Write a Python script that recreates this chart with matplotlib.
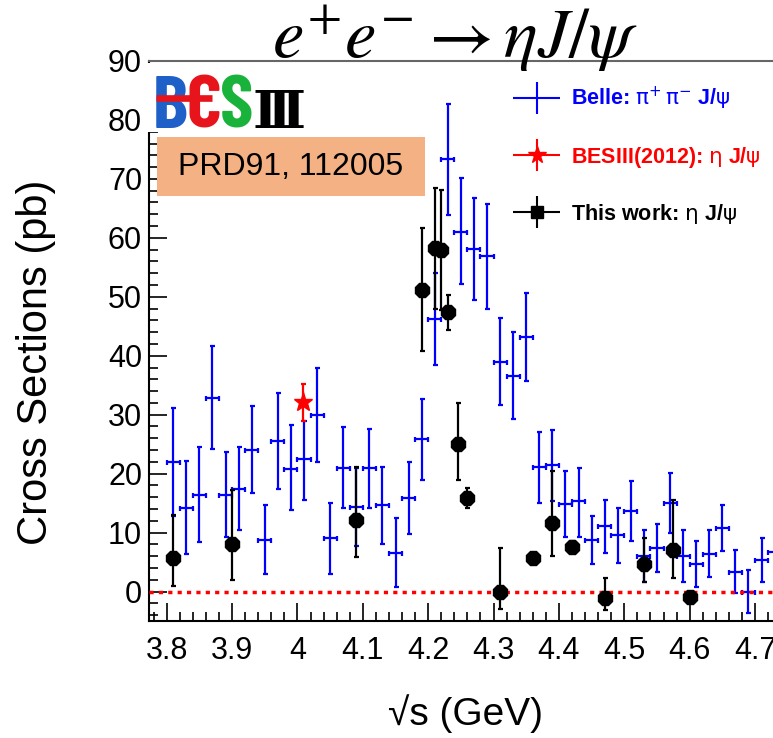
import matplotlib
matplotlib.use("Agg")
import matplotlib.pyplot as plt
import numpy as np
from matplotlib.container import ErrorbarContainer
from matplotlib.legend_handler import HandlerErrorbar
from matplotlib.lines import Line2D
from matplotlib.patches import Rectangle
from matplotlib.ticker import FormatStrFormatter, MultipleLocator

plt.rcParams["font.family"] = ["Liberation Sans", "DejaVu Sans"]

# Belle ISR pi+ pi- J/psi, 20 MeV bins
belle_energy = [3.81, 3.83, 3.85, 3.87, 3.89, 3.91, 3.93, 3.95, 3.97, 3.99,
                4.01, 4.03, 4.05, 4.07, 4.09, 4.11, 4.13, 4.15, 4.17, 4.19,
                4.21, 4.23, 4.25, 4.27, 4.29, 4.31, 4.33, 4.35, 4.37, 4.39,
                4.41, 4.43, 4.45, 4.47, 4.49, 4.51, 4.53, 4.55, 4.57, 4.59,
                4.61, 4.63, 4.65, 4.67, 4.69, 4.71, 4.73]
belle_xsec = [22.0, 14.2, 16.4, 32.8, 16.4, 17.4, 24.0, 8.7, 25.5, 20.8,
              22.5, 29.9, 9.0, 21.0, 14.4, 21.0, 14.6, 6.6, 15.9, 25.8,
              46.2, 73.3, 61.0, 58.1, 56.9, 39.0, 36.6, 43.2, 21.1, 21.4,
              14.9, 15.3, 8.7, 11.1, 9.6, 13.6, 6.0, 7.4, 15.0, 6.1,
              4.7, 6.4, 10.8, 3.3, 0.0, 5.4, 6.7]
belle_err_up = [9.2, 8.0, 8.2, 8.8, 7.3, 7.2, 7.4, 5.9, 8.1, 7.4,
                6.5, 8.0, 6.1, 6.9, 6.6, 6.6, 6.5, 5.9, 6.1, 6.8,
                7.8, 9.4, 9.1, 8.6, 8.8, 7.4, 7.4, 7.4, 6.0, 6.0,
                5.5, 5.7, 4.1, 4.5, 4.6, 5.1, 4.4, 4.0, 5.1, 4.3,
                3.8, 4.1, 3.9, 3.8, 3.7, 3.7, 4.0]
belle_err_dn = [9.2, 7.9, 8.0, 8.7, 7.2, 7.0, 7.3, 5.8, 8.1, 7.0,
                7.0, 7.9, 6.0, 6.8, 6.6, 6.8, 6.5, 5.9, 6.1, 6.8,
                7.8, 9.4, 8.9, 8.7, 9.0, 7.4, 7.4, 7.5, 6.0, 6.0,
                5.6, 6.0, 4.1, 4.5, 4.7, 5.1, 4.4, 4.1, 5.1, 4.4,
                3.9, 3.9, 4.0, 3.6, 3.7, 3.8, 4.0]
belle_half_bin = 0.01

# BESIII 2012 eta J/psi at 4.009 GeV
bes2012_energy = [4.009]
bes2012_xsec = [32.1]
bes2012_err_up = [3.1]
bes2012_err_dn = [3.2]

# this work: eta J/psi
this_energy = [3.810, 3.900, 4.090, 4.190, 4.210, 4.220, 4.230, 4.245, 4.260,
               4.310, 4.360, 4.390, 4.420, 4.470, 4.530, 4.575, 4.600]
this_xsec = [5.7, 8.0, 12.2, 51.1, 58.2, 57.9, 47.5, 25.0, 15.8,
             0.0, 5.7, 11.7, 7.5, -1.1, 4.7, 7.1, -1.0]
this_err_up = [7.2, 9.2, 9.0, 10.5, 10.2, 10.2, 2.8, 6.9, 1.7,
               7.3, 0.8, 8.7, 1.0, 3.4, 4.3, 8.5, 0.8]
this_err_dn = [4.7, 6.1, 6.3, 10.3, 10.3, 10.2, 3.2, 6.1, 1.7,
               2.9, 0.8, 5.6, 1.0, 2.0, 3.0, 4.8, 0.8]

legend_labels = [r"Belle: $\mathrm{\pi}^{+}\,\mathrm{\pi}^{-}$ J/$\mathrm{\psi}$",
                 r"BESIII(2012): $\mathrm{\eta}$ J/$\mathrm{\psi}$",
                 r"This work: $\mathrm{\eta}$ J/$\mathrm{\psi}$"]
legend_colors = ["#0000ff", "#ff0000", "black"]

W, H = 773, 738
fig = plt.figure(figsize=(W / 100, H / 100), dpi=100)


def fx(px):
    return px / W


def fy(py):
    return 1 - py / H


ax = fig.add_axes([fx(149), fy(621), fx(790) - fx(149), fy(61) - fy(621)])
ax.set_xlim(3.7729, 4.7535)
ax.set_ylim(-5, 90)

ax.axhline(0, color="#ff0000", lw=2.5, linestyle=(0, (1.2, 1.5)), zorder=3)

ax.errorbar(belle_energy, belle_xsec, xerr=belle_half_bin,
            yerr=[belle_err_dn, belle_err_up], fmt="none", ecolor="#0000ff",
            elinewidth=1.6, capsize=1.8, capthick=1.6, zorder=2)
ax.errorbar(this_energy, this_xsec, yerr=[this_err_dn, this_err_up],
            fmt="8", color="black", ms=10.5, elinewidth=1.6, capsize=1.8,
            capthick=1.6, zorder=4)
ax.errorbar(bes2012_energy, bes2012_xsec,
            yerr=[bes2012_err_dn, bes2012_err_up], fmt="*", color="#ff0000",
            ms=14, elinewidth=1.6, capsize=1.8, capthick=1.6, zorder=5)

ax.xaxis.set_major_locator(MultipleLocator(0.1))
ax.xaxis.set_minor_locator(MultipleLocator(0.02))
ax.yaxis.set_major_locator(MultipleLocator(10))
ax.yaxis.set_minor_locator(MultipleLocator(2))
ax.xaxis.set_major_formatter(FormatStrFormatter("%g"))
ax.yaxis.set_major_formatter(FormatStrFormatter("%g"))
ax.tick_params(which="both", direction="in", top=False, right=False,
               width=1.2, labelsize=22)
ax.tick_params(which="major", length=13)
ax.tick_params(which="minor", length=6.5)
ax.tick_params(axis="x", pad=11)
ax.tick_params(axis="y", pad=5)

for side in ("left", "bottom"):
    ax.spines[side].set_linewidth(1.5)
ax.spines["top"].set_color("#666666")
ax.spines["top"].set_linewidth(1.5)
ax.spines["right"].set_visible(False)

ax.set_ylabel("Cross Sections (pb)", fontsize=30)
ax.yaxis.set_label_coords(-0.145, 0.462)
ax.set_xlabel("√s (GeV)", fontsize=28)
ax.xaxis.set_label_coords(0.4945, -0.13)

# legend entries: marker with horizontal and vertical bars
proxies = []
for marker, color, ms in [("none", legend_colors[0], 0),
                          ("*", legend_colors[1], 13),
                          ("s", legend_colors[2], 8)]:
    proxies.append(ax.errorbar([np.nan], [np.nan], xerr=[1], yerr=[1],
                               fmt=marker, color=color, ms=ms,
                               elinewidth=1.5, capsize=0))
leg = ax.legend(proxies, legend_labels, loc="upper left",
                bbox_to_anchor=(fx(513), fy(85)), bbox_transform=fig.transFigure,
                frameon=False, borderpad=0, borderaxespad=0, handlelength=2.2,
                handletextpad=0.5, labelspacing=1.5,
                prop={"weight": "bold", "size": 15.5},
                handler_map={ErrorbarContainer: HandlerErrorbar(xerr_size=1.08,
                                                                yerr_size=0.75)})
for txt, color in zip(leg.get_texts(), legend_colors):
    txt.set_color(color)

# title
fig.text(fx(455), fy(58), r"$e^{+}e^{-}\rightarrow\eta J/\psi$",
         ha="center", va="baseline", fontsize=51, math_fontfamily="stix")

# experiment logo on a white patch
fig.patches.append(Rectangle((fx(147), fy(132)), fx(303) - fx(147),
                             fy(63) - fy(132), transform=fig.transFigure,
                             facecolor="white", edgecolor="none", zorder=5))
logo_font = dict(family=["Barlow Condensed", "DejaVu Sans"], weight="bold",
                 fontsize=54, ha="center", va="baseline", zorder=6)
fig.text(fx(170), fy(128), "B", color="#1f5fc8", **logo_font)
fig.text(fx(203.5), fy(128), "C", color="#e8141c", **logo_font)
fig.text(fx(237), fy(128), "S", color="#19b33c", **logo_font)
fig.lines.append(Line2D([fx(156), fx(212)], [fy(98), fy(98)],
                        transform=fig.transFigure, color="#e8141c", lw=4.8,
                        solid_capstyle="butt", zorder=7))
fig.text(fx(279), fy(128), "Ⅲ", color="black", family=["DejaVu Serif", "DejaVu Sans"],
         weight="bold", fontsize=38, ha="center", va="baseline", zorder=6)

# reference tag
fig.patches.append(Rectangle((fx(157), fy(196)), fx(425) - fx(157),
                             fy(137) - fy(196), transform=fig.transFigure,
                             facecolor="#F4B183", edgecolor="none", zorder=6))
fig.text(fx(291), fy(167), "PRD91, 112005", fontsize=23, ha="center",
         va="center", zorder=7)

fig.savefig("out.png", dpi=100)
